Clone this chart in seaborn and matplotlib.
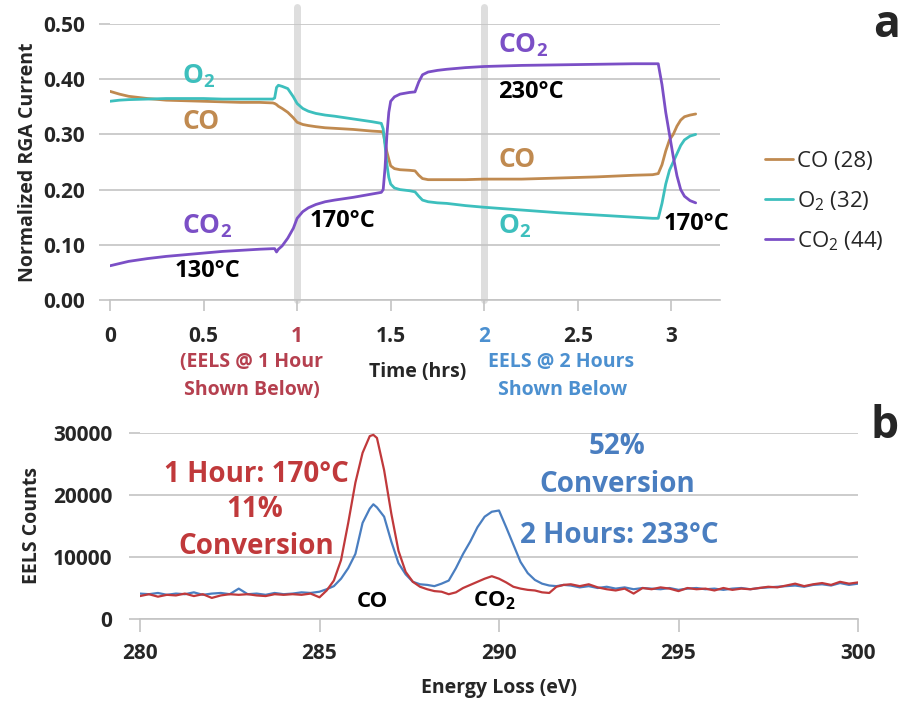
import matplotlib
matplotlib.use("Agg")
import matplotlib.pyplot as plt
import pandas as pd
import seaborn as sns
from matplotlib.lines import Line2D

# ---------------- data: panel a (RGA currents) ----------------
time_hrs = [0, 0.05, 0.1, 0.2, 0.3, 0.4, 0.5, 0.6, 0.7, 0.8, 0.87, 0.88, 0.89, 0.9,
            0.92, 0.95, 0.98, 1.0, 1.03, 1.06, 1.1, 1.15, 1.2, 1.3, 1.4, 1.45, 1.46,
            1.47, 1.48, 1.49, 1.5, 1.52, 1.55, 1.6, 1.63, 1.65, 1.67, 1.7, 1.75, 1.8,
            1.9, 2.0, 2.2, 2.4, 2.6, 2.8, 2.9, 2.93, 2.95, 2.97, 2.99, 3.01, 3.03,
            3.05, 3.07, 3.1, 3.13]
co_28 = [0.378, 0.373, 0.369, 0.365, 0.362, 0.361, 0.360, 0.359, 0.358, 0.358, 0.357,
         0.356, 0.354, 0.351, 0.347, 0.340, 0.330, 0.322, 0.318, 0.316, 0.314, 0.312,
         0.311, 0.309, 0.306, 0.305, 0.303, 0.285, 0.268, 0.255, 0.243, 0.238, 0.236,
         0.235, 0.234, 0.226, 0.220, 0.218, 0.218, 0.218, 0.218, 0.219, 0.219, 0.221,
         0.223, 0.226, 0.227, 0.229, 0.245, 0.270, 0.290, 0.300, 0.315, 0.326, 0.332,
         0.335, 0.337]
o2_32 = [0.360, 0.362, 0.363, 0.364, 0.365, 0.365, 0.365, 0.364, 0.364, 0.364, 0.364,
         0.366, 0.385, 0.389, 0.387, 0.383, 0.368, 0.356, 0.347, 0.342, 0.338, 0.335,
         0.333, 0.328, 0.323, 0.320, 0.310, 0.280, 0.245, 0.222, 0.210, 0.203, 0.200,
         0.198, 0.196, 0.188, 0.181, 0.178, 0.176, 0.175, 0.171, 0.168, 0.163, 0.158,
         0.154, 0.150, 0.148, 0.148, 0.175, 0.210, 0.235, 0.250, 0.265, 0.280, 0.290,
         0.297, 0.300]
co2_44 = [0.062, 0.066, 0.070, 0.075, 0.079, 0.082, 0.085, 0.088, 0.090, 0.092, 0.093,
          0.093, 0.087, 0.092, 0.098, 0.112, 0.130, 0.148, 0.160, 0.167, 0.173, 0.178,
          0.181, 0.186, 0.192, 0.195, 0.200, 0.240, 0.300, 0.340, 0.360, 0.368, 0.373,
          0.376, 0.377, 0.395, 0.408, 0.413, 0.416, 0.418, 0.421, 0.423, 0.425, 0.426,
          0.427, 0.428, 0.428, 0.428, 0.390, 0.340, 0.300, 0.260, 0.225, 0.200, 0.188,
          0.180, 0.176]
gas_names = ["CO (28)", "O$_2$ (32)", "CO$_2$ (44)"]
time_ticks = [0, 0.5, 1, 1.5, 2, 2.5, 3]
time_tick_labels = ["0", "0.5", "1", "1.5", "2", "2.5", "3"]
rga_ticks = [0.0, 0.1, 0.2, 0.3, 0.4, 0.5]

# ---------------- data: panel b (EELS spectra) ----------------
energy_ev = [280.0, 280.25, 280.5, 280.75, 281.0, 281.25, 281.5, 281.75, 282.0, 282.25,
             282.5, 282.75, 283.0, 283.25, 283.5, 283.75, 284.0, 284.25, 284.5, 284.75,
             285.0, 285.2, 285.4, 285.6, 285.8, 286.0, 286.2, 286.4, 286.5, 286.6,
             286.8, 287.0, 287.2, 287.4, 287.6, 287.8, 288.0, 288.2, 288.4, 288.6,
             288.8, 289.0, 289.2, 289.4, 289.6, 289.8, 290.0, 290.2, 290.4, 290.6,
             290.8, 291.0, 291.2, 291.4, 291.6, 291.8, 292.0, 292.25, 292.5, 292.75,
             293.0, 293.25, 293.5, 293.75, 294.0, 294.25, 294.5, 294.75, 295.0, 295.25,
             295.5, 295.75, 296.0, 296.25, 296.5, 296.75, 297.0, 297.25, 297.5, 297.75,
             298.0, 298.25, 298.5, 298.75, 299.0, 299.25, 299.5, 299.75, 300.0]
counts_1h = [3700, 4000, 3600, 3900, 3800, 4100, 3700, 4000, 3400, 3800,
             4000, 3900, 4000, 3800, 3700, 4000, 3900, 4000, 3900, 4100,
             3500, 4600, 6200, 9500, 15500, 22000, 26800, 29500, 29700, 29200,
             24000, 17000, 11000, 7600, 6000, 5200, 4800, 4500, 4400, 4000,
             4300, 5000, 5500, 6000, 6500, 6900, 6500, 5900, 5200, 4900,
             4700, 4600, 4300, 4200, 5200, 5500, 5600, 5300, 5600, 5100,
             4800, 4600, 4900, 4100, 5000, 4800, 5100, 4900, 4500, 5000,
             4800, 4900, 4600, 5000, 4700, 4900, 4800, 5000, 5200, 5100,
             5400, 5700, 5300, 5600, 5800, 5500, 6000, 5700, 5900]
counts_2h = [4100, 4000, 4200, 3900, 4100, 4000, 4300, 3900, 4100, 4200,
             4000, 4900, 4000, 4100, 3900, 4200, 4000, 4100, 4300, 4200,
             4400, 4800, 5300, 6500, 8200, 10500, 15500, 17800, 18500, 18000,
             16500, 12500, 9000, 7200, 6000, 5600, 5500, 5300, 5700, 6200,
             8200, 10500, 12500, 14800, 16500, 17300, 17500, 14800, 12000, 9200,
             7400, 6300, 5700, 5400, 5300, 5500, 5400, 5100, 5300, 5000,
             5200, 4900, 5100, 4800, 5000, 4900, 4800, 5000, 4700, 4900,
             5000, 4800, 4900, 4700, 4900, 5000, 4800, 5000, 5100, 5200,
             5300, 5400, 5200, 5500, 5600, 5400, 5800, 5500, 5700]
spectrum_names = ["2 Hours", "1 Hour"]
energy_ticks = [280, 285, 290, 295, 300]
count_ticks = [0, 10000, 20000, 30000]

# ---------------- style ----------------
sns.set_theme(style="white")
plt.rcParams["font.family"] = ["Open Sans", "DejaVu Sans"]
plt.rcParams["mathtext.fontset"] = "custom"
plt.rcParams["mathtext.default"] = "regular"

C_CO, C_O2, C_CO2 = "#C08A50", "#3DBFBD", "#7B4FC6"
C_RED, C_BLUE = "#C0393B", "#4A7EC0"
C_RED_T, C_BLUE_T = "#B5404F", "#4C90D0"
GRID = "#C4C4C4"

fig = plt.figure(figsize=(9.01, 7.02), dpi=100)
W, H = 901, 702
ax1 = fig.add_axes([110 / W, 1 - 300 / H, 610 / W, 276 / H])
ax2 = fig.add_axes([140 / W, 1 - 619 / H, 718 / W, 186 / H])

# ---------------- panel a ----------------
n = len(time_hrs)
df_a = pd.DataFrame({
    "Time": time_hrs * 3,
    "Current": co_28 + o2_32 + co2_44,
    "Gas": [gas_names[0]] * n + [gas_names[1]] * n + [gas_names[2]] * n,
})
pal_a = {gas_names[0]: C_CO, gas_names[1]: C_O2, gas_names[2]: C_CO2}
for xv in (1, 2):
    ax1.axvline(xv, ymin=0, ymax=1.06, color="#DEDEDE", lw=5, zorder=0.5, clip_on=False)
sns.lineplot(data=df_a, x="Time", y="Current", hue="Gas", palette=pal_a,
             estimator=None, sort=False, lw=2, legend=False, ax=ax1, zorder=3)

ax1.set_xlim(0, 3.26)
ax1.set_ylim(0, 0.5)
ax1.set_yticks(rga_ticks)
ax1.set_yticklabels([f"{v:.2f}" for v in rga_ticks])
ax1.set_xticks(time_ticks)
ax1.set_xticklabels(time_tick_labels)
ax1.yaxis.grid(True, color=GRID, lw=1.2)
ax1.xaxis.grid(False)
for s in ("left", "top", "right"):
    ax1.spines[s].set_visible(False)
ax1.spines["bottom"].set_color(GRID)
ax1.spines["bottom"].set_linewidth(1.2)
ax1.tick_params(axis="x", bottom=True, length=8, width=1.2, color=GRID, pad=11,
                labelsize=15)
ax1.tick_params(axis="y", left=True, length=8, width=1.2, color=GRID, pad=10,
                labelsize=15)
for lbl in ax1.get_xticklabels() + ax1.get_yticklabels():
    lbl.set_fontweight("bold")
for lbl in ax1.get_xticklabels():
    if lbl.get_text() == "1":
        lbl.set_color(C_RED_T)
    elif lbl.get_text() == "2":
        lbl.set_color(C_BLUE_T)

ax1.set_ylabel("Normalized RGA Current", fontsize=14, fontweight="bold", va="center")
ax1.yaxis.set_label_coords(-0.135, 0.5)
ax1.set_xlabel("Time (hrs)", fontsize=14, fontweight="bold", va="center")
ax1.xaxis.set_label_coords((418 - 110) / 610, (300 - 372) / 276)

fig.text(251 / W, 1 - 362 / H, "(EELS @ 1 Hour", color=C_RED_T, fontsize=14,
         fontweight="bold", ha="center", va="center")
fig.text(252 / W, 1 - 390 / H, "Shown Below)", color=C_RED_T, fontsize=14,
         fontweight="bold", ha="center", va="center")
fig.text(561 / W, 1 - 362 / H, "EELS @ 2 Hours", color=C_BLUE_T, fontsize=14,
         fontweight="bold", ha="center", va="center")
fig.text(563 / W, 1 - 390 / H, "Shown Below", color=C_BLUE_T, fontsize=14,
         fontweight="bold", ha="center", va="center")

lab = dict(fontweight="bold", va="baseline")
ax1.text(0.385, 0.393, "O$_2$", color=C_O2, fontsize=19, ha="left", **lab)
ax1.text(0.385, 0.310, "CO", color=C_CO, fontsize=19, ha="left", **lab)
ax1.text(0.385, 0.121, "CO$_2$", color=C_CO2, fontsize=19, ha="left", **lab)
ax1.text(0.52, 0.042, "130°C", color="black", fontsize=17, ha="center", **lab)
ax1.text(1.069, 0.132, "170°C", color="black", fontsize=17, ha="left", **lab)
ax1.text(2.074, 0.449, "CO$_2$", color=C_CO2, fontsize=19, ha="left", **lab)
ax1.text(2.074, 0.366, "230°C", color="black", fontsize=17, ha="left", **lab)
ax1.text(2.074, 0.241, "CO", color=C_CO, fontsize=19, ha="left", **lab)
ax1.text(2.074, 0.121, "O$_2$", color=C_O2, fontsize=19, ha="left", **lab)
ax1.text(2.956, 0.127, "170°C", color="black", fontsize=17, ha="left", **lab)

handles = [Line2D([], [], color=pal_a[g], lw=2) for g in gas_names]
fig.legend(handles, gas_names, loc="center left", bbox_to_anchor=(765 / W, 1 - 202 / H),
           frameon=False, fontsize=16, handlelength=1.25, handletextpad=0.2,
           labelspacing=0.75, borderpad=0, borderaxespad=0)

fig.text(873 / W, 1 - 37 / H, "a", fontsize=32, fontweight="bold", ha="left",
         va="baseline")

# ---------------- panel b ----------------
m = len(energy_ev)
df_b = pd.DataFrame({
    "Energy": energy_ev * 2,
    "Counts": counts_2h + counts_1h,
    "Spectrum": [spectrum_names[0]] * m + [spectrum_names[1]] * m,
})
pal_b = {spectrum_names[0]: C_BLUE, spectrum_names[1]: C_RED}
sns.lineplot(data=df_b, x="Energy", y="Counts", hue="Spectrum", hue_order=spectrum_names,
             palette=pal_b, estimator=None, sort=False, lw=1.6, legend=False, ax=ax2,
             zorder=3)
ax2.set_xlim(280, 300)
ax2.set_ylim(0, 30000)
ax2.set_xticks(energy_ticks)
ax2.set_yticks(count_ticks)
ax2.yaxis.grid(True, color=GRID, lw=1.2)
ax2.xaxis.grid(False)
for s in ("left", "top", "right"):
    ax2.spines[s].set_visible(False)
ax2.spines["bottom"].set_color(GRID)
ax2.spines["bottom"].set_linewidth(1.2)
ax2.tick_params(axis="x", bottom=True, length=9, width=1.2, color=GRID, pad=8,
                labelsize=15)
ax2.tick_params(axis="y", left=True, length=8, width=1.2, color=GRID, pad=12,
                labelsize=15)
for lbl in ax2.get_xticklabels() + ax2.get_yticklabels():
    lbl.set_fontweight("bold")
ax2.set_ylabel("EELS Counts", fontsize=14, fontweight="bold", va="center")
ax2.yaxis.set_label_coords((32 - 140) / 718, 0.5)
ax2.set_xlabel("Energy Loss (eV)", fontsize=14, fontweight="bold", va="center")
ax2.xaxis.set_label_coords((499 - 140) / 718, (619 - 688) / 186)

ax2.text(283.23, 22100, "1 Hour: 170°C", color=C_RED, fontsize=20, ha="center", **lab)
ax2.text(283.2, 16450, "11%", color=C_RED, fontsize=20, ha="center", **lab)
ax2.text(283.23, 10480, "Conversion", color=C_RED, fontsize=20, ha="center", **lab)
ax2.text(293.3, 26600, "52%", color=C_BLUE, fontsize=20, ha="center", **lab)
ax2.text(293.3, 20500, "Conversion", color=C_BLUE, fontsize=20, ha="center", **lab)
ax2.text(293.34, 12260, "2 Hours: 233°C", color=C_BLUE, fontsize=20, ha="center", **lab)
ax2.text(286.46, 1940, "CO", color="black", fontsize=16, ha="center", **lab)
ax2.text(289.28, 2100, "CO$_2$", color="black", fontsize=16, ha="left", **lab)

fig.text(870 / W, 1 - 438 / H, "b", fontsize=32, fontweight="bold", ha="left",
         va="baseline")

fig.savefig("out.png", dpi=100)
